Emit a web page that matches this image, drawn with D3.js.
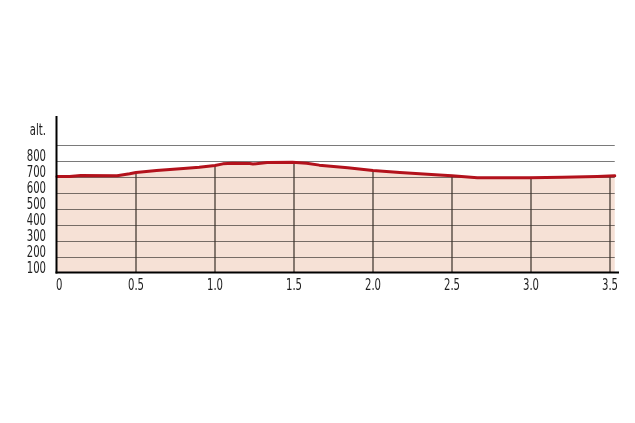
<!DOCTYPE html>
<html>
<head>
<meta charset="utf-8">
<script src="https://cdn.jsdelivr.net/npm/d3@7"></script>
<style>
html,body{margin:0;padding:0;background:#fff;}
svg text{font-family:"DejaVu Sans Condensed","DejaVu Sans",sans-serif;fill:#1e1e1e;}
</style>
</head>
<body>
<svg id="chart" width="635" height="423"></svg>
<script>
// distance (km) along route
const distances = [0, 0.08, 0.15, 0.38, 0.46, 0.5, 0.63, 0.8, 0.9, 1.0, 1.05, 1.11, 1.22, 1.24, 1.33, 1.49, 1.58, 1.66, 1.84, 2.0, 2.17, 2.42, 2.5, 2.66, 2.78, 2.99, 3.2, 3.42, 3.53];
// altitude (m)
const altitudes = [700, 700, 706, 705, 717, 725, 737, 750, 758, 769, 779, 783, 781, 778, 787, 789, 783, 771, 754, 737, 725, 710, 704, 692, 692, 692, 696, 700, 704];
const xTicks = [0, 0.5, 1.0, 1.5, 2.0, 2.5, 3.0, 3.5];
const xTickLabels = ["0", "0.5", "1.0", "1.5", "2.0", "2.5", "3.0", "3.5"];
const yTicks = [100, 200, 300, 400, 500, 600, 700, 800];
const yGrid = [200, 300, 400, 500, 600, 700, 800, 900];
const yTitle = "alt.";

const data = distances.map((d, i) => ({d, a: altitudes[i]}));
const svg = d3.select("#chart");

const x = d3.scaleLinear().domain([0, 3.5]).range([57, 610]);
const y = d3.scaleLinear().domain([100, 900]).range([272.5, 144.5]);
const xEnd = x(3.53);
const FS = 15, SX = 0.75;

const area = d3.area().x(p => x(p.d)).y0(y(100)).y1(p => y(p.a));
const line = d3.line().x(p => x(p.d)).y(p => y(p.a));

svg.append("defs").append("clipPath").attr("id", "areaClip")
  .append("path").attr("d", area(data));

// fill
svg.append("path").attr("d", area(data)).attr("fill", "#f6e1d6");

// horizontal gridlines
svg.append("g").selectAll("line").data(yGrid).join("line")
  .attr("x1", 57).attr("x2", xEnd)
  .attr("y1", v => Math.round(y(v)) + 0.5).attr("y2", v => Math.round(y(v)) + 0.5)
  .attr("stroke", "#7a7a7a").attr("stroke-width", 1.2)
  .style("mix-blend-mode", "multiply");

// vertical gridlines clipped to area
svg.append("g").attr("clip-path", "url(#areaClip)").selectAll("line").data(xTicks.slice(1)).join("line")
  .attr("x1", v => x(v)).attr("x2", v => x(v))
  .attr("y1", y(100)).attr("y2", y(900))
  .attr("stroke", "#3a3028").attr("stroke-width", 1.2);

// profile line
svg.append("path").attr("d", line(data))
  .attr("fill", "none").attr("stroke", "#b3121c").attr("stroke-width", 3)
  .attr("stroke-linejoin", "round").attr("stroke-linecap", "round");

// axes
svg.append("line").attr("x1", 56.5).attr("x2", 56.5).attr("y1", 116).attr("y2", 273.5)
  .attr("stroke", "#000").attr("stroke-width", 2);
svg.append("line").attr("x1", 55.5).attr("x2", 619).attr("y1", 272.5).attr("y2", 272.5)
  .attr("stroke", "#000").attr("stroke-width", 2);

// y labels
svg.append("g").selectAll("text").data(yTicks).join("text")
  .attr("transform", v => `translate(46,${y(v) + 0.5}) scale(${SX},1)`)
  .attr("text-anchor", "end").attr("font-size", FS)
  .text(v => v);

svg.append("text").attr("transform", `translate(46,135) scale(${SX},1)`).attr("text-anchor", "end")
  .attr("font-size", FS).text(yTitle);

// x labels
svg.append("g").selectAll("text").data(xTicks).join("text")
  .attr("transform", (v, i) => `translate(${i === 0 ? x(v) - 1 : x(v)},289.5) scale(${SX},1)`)
  .attr("text-anchor", (v, i) => i === 0 ? "start" : "middle")
  .attr("font-size", FS)
  .text((v, i) => xTickLabels[i]);
</script>
</body>
</html>
